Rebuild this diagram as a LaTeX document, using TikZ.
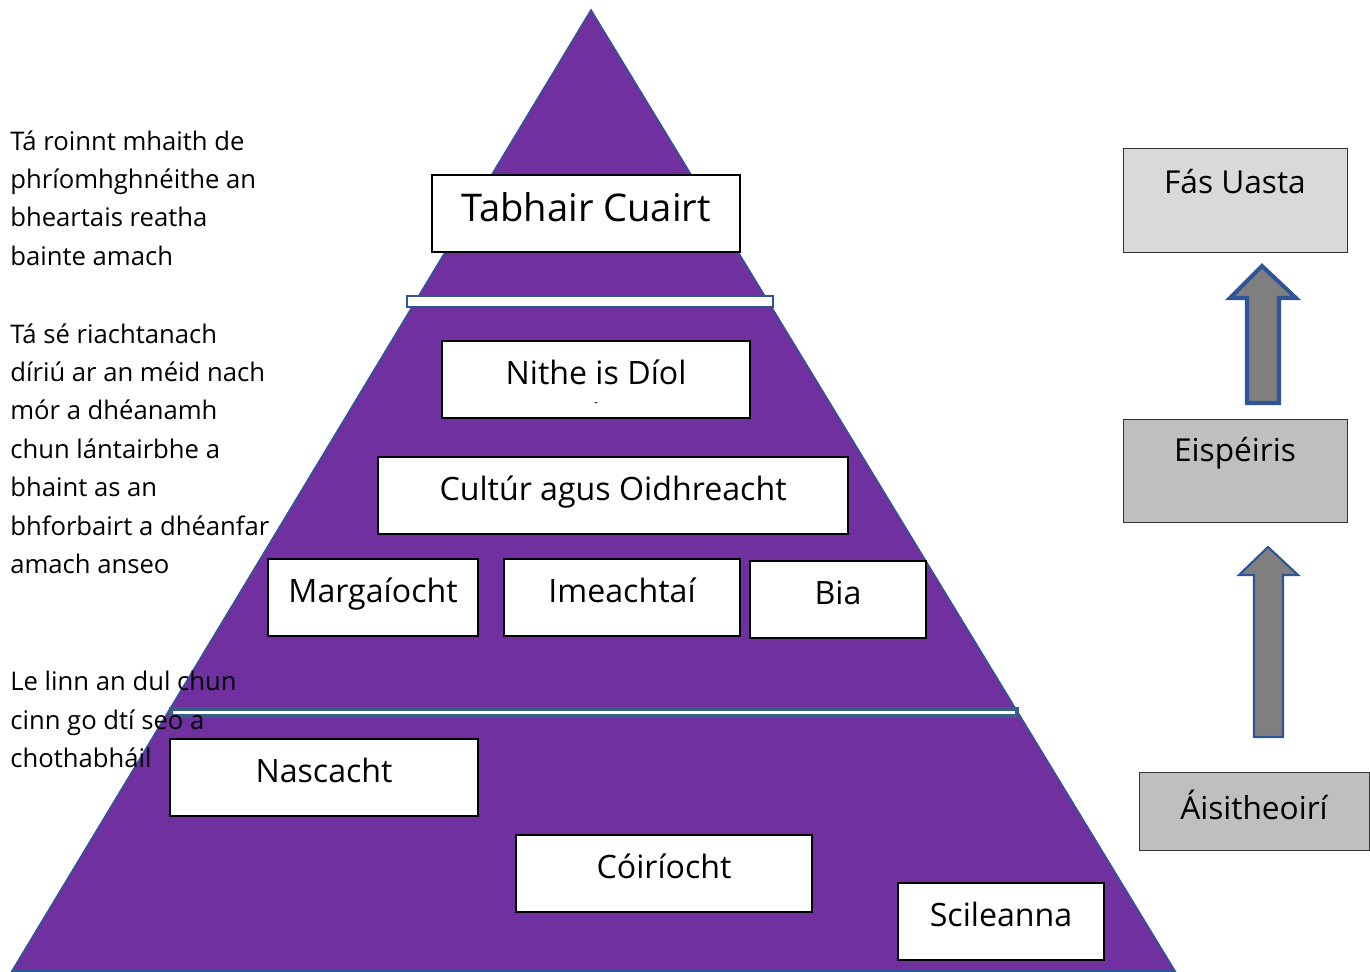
\documentclass[tikz,border=0pt]{standalone}
\usepackage{fontspec}
\setmainfont{Open Sans}
\usepackage{tikz}
\usetikzlibrary{positioning}
\definecolor{pyr}{HTML}{7030A0}
\definecolor{edge}{HTML}{2F5597}
\definecolor{bar}{HTML}{3B5E8C}
\definecolor{light}{HTML}{D9D9D9}
\definecolor{mid}{HTML}{BFBFBF}
\definecolor{arr}{HTML}{7F7F7F}
\newdimen\pu \pu=0.02cm
\tikzset{
  box/.style={draw=black, fill=white, line width=1.2pt, anchor=north west, inner sep=0pt,
    text height=0.8em, text depth=0.2em, font=\fontsize{18.3}{20}\selectfont},
  gbox/.style={draw=black!80, line width=0.8pt, anchor=north west, inner sep=0pt},
  glbl/.style={font=\fontsize{18}{20}\selectfont},
  side/.style={anchor=north west, align=left, inner sep=0pt, font=\fontsize{14.6}{21.9}\selectfont},
  blockarrow/.style={draw=edge, fill=arr, line join=miter}
}
\begin{document}
\begin{tikzpicture}[x=0.02cm, y=-0.02cm]
\useasboundingbox (0,0) rectangle (1370,971);
% pyramid
\filldraw[fill=pyr, draw=edge, line width=0.9pt] (591,10) -- (1175,971) -- (12,971) -- cycle;
\filldraw[fill=white, draw=edge, line width=1.2pt] (407,296) rectangle (773,307);
\filldraw[fill=white, draw=bar, line width=2.3pt] (171,709) rectangle (1017,716);
% boxes
\node[box, font=\fontsize{21.7}{24}\selectfont, text height=1em, text depth=0.12em,
  minimum width=308\pu, minimum height=77\pu] (tabhair) at (431,174) {Tabhair Cuairt};
\node[box, minimum width=308\pu, minimum height=77\pu] (nithe) at (441,340) {Nithe is Díol};
\node[font=\fontsize{7}{8}\selectfont, inner sep=0pt] (dash) at (596,405) {-};
\node[box, minimum width=470\pu, minimum height=77\pu] (cultur) at (377,456) {Cultúr agus Oidhreacht};
\node[box, minimum width=210\pu, minimum height=77\pu] (marg) at (267,558) {Margaíocht};
\node[box, minimum width=236\pu, minimum height=77\pu] (imeacht) at (503,558) {Imeachtaí};
\node[box, minimum width=176\pu, minimum height=77\pu] (bia) at (749,560) {Bia};
\node[box, minimum width=308\pu, minimum height=77\pu] (nasc) at (169,738) {Nascacht};
\node[box, minimum width=296\pu, minimum height=77\pu] (coir) at (515,834) {Cóiríocht};
\node[box, minimum width=206\pu, minimum height=77\pu] (scil) at (897,882) {Scileanna};
% left notes
\node[side] (note1) at (10,130) {Tá roinnt mhaith de\\phríomhghnéithe an\\bheartais reatha\\bainte amach};
\node[side] (note2) at (10,323) {Tá sé riachtanach\\díriú ar an méid nach\\mór a dhéanamh\\chun lántairbhe a\\bhaint as an\\bhforbairt a dhéanfar\\amach anseo};
\node[side] (note3) at (10,671) {Le linn an dul chun\\cinn go dtí seo a\\chothabháil};
% right column
\node[gbox, fill=light, minimum width=224\pu, minimum height=104\pu] (fas) at (1123,148) {};
\node[glbl] (fas-t) at (1235,182) {Fás Uasta};
\node[gbox, fill=mid, minimum width=224\pu, minimum height=103\pu] (eisp) at (1123,419) {};
\node[glbl] (eisp-t) at (1235,453) {Eispéiris};
\node[gbox, fill=mid, minimum width=230\pu, minimum height=78\pu] (ais) at (1139,772) {};
\node[glbl] (ais-t) at (1254,805) {Áisitheoirí};
% block arrows
\draw[blockarrow, line width=2.3pt] (1262,266) -- (1296,298) -- (1279,298) -- (1279,403)
  -- (1247,403) -- (1247,298) -- (1230,298) -- cycle;
\draw[blockarrow, line width=1.2pt] (1268,547) -- (1298,575) -- (1283,575) -- (1283,737)
  -- (1254,737) -- (1254,575) -- (1239,575) -- cycle;
\end{tikzpicture}
\end{document}
